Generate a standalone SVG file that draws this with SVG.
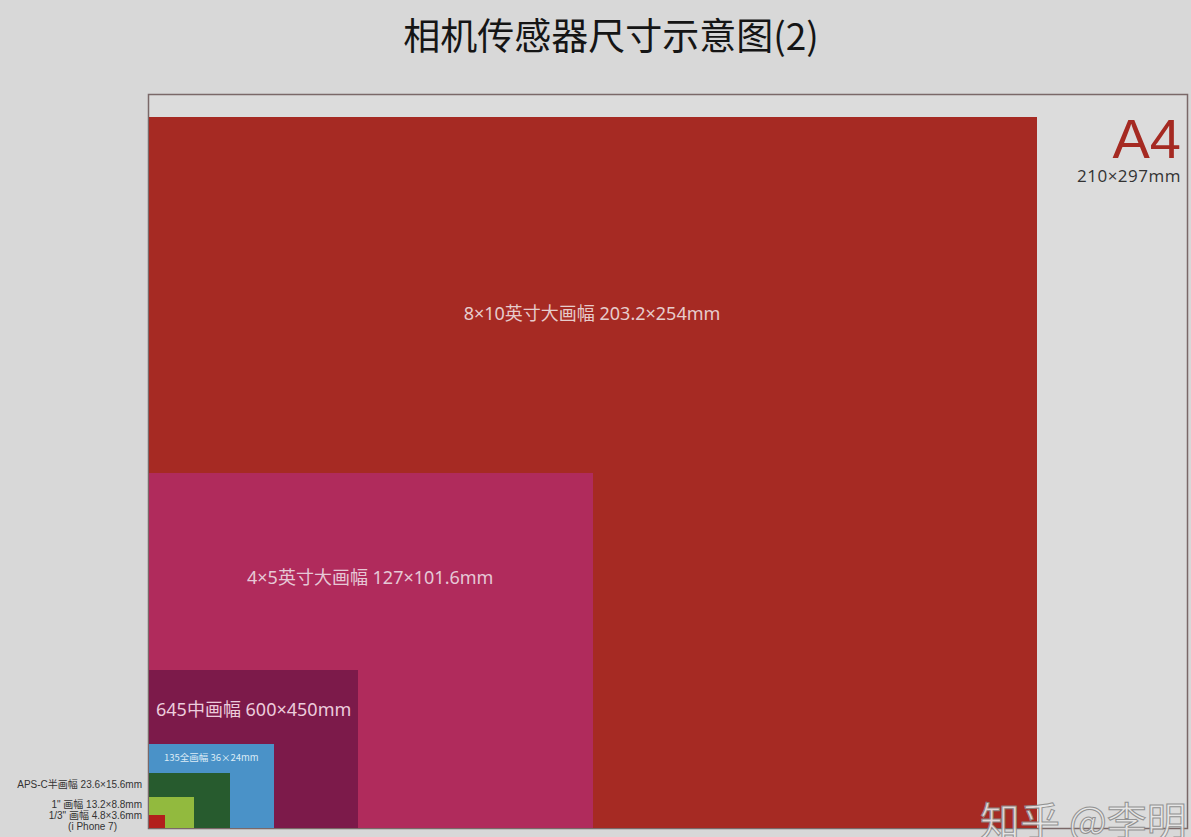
<svg xmlns="http://www.w3.org/2000/svg" width="1191" height="837" viewBox="0 0 1191 837">
<style>
.cn{font-family:"Noto Sans CJK SC","Liberation Sans",sans-serif}
.lab{font-family:"Noto Sans","Noto Sans CJK SC",sans-serif;font-size:18px}
.side{font-family:"Liberation Sans","Noto Sans CJK SC",sans-serif;font-size:10px;fill:#333;text-anchor:end}
</style>
<rect x="0" y="0" width="1191" height="837" fill="#d8d8d8"/>
<text class="cn" x="611" y="50" font-size="37" fill="#151515" text-anchor="middle">相机传感器尺寸示意图(2)</text>
<g id="a4">
<rect x="148.5" y="94.5" width="1039" height="734" fill="#dcdcdc" stroke="#7a6868" stroke-width="1.5"/>
<text x="1181" y="158" font-family="'Liberation Sans',sans-serif" font-size="56" fill="#a52a22" text-anchor="end">A4</text>
<text x="1181" y="182" font-family="'Open Sans','Liberation Sans',sans-serif" font-size="17" letter-spacing="0.5" fill="#333" text-anchor="end">210×297mm</text>
</g>
<g id="large8x10">
<rect x="149" y="117" width="888" height="711" fill="#a62a23"/>
<text class="lab" x="592" y="320" fill="#e6cccc" text-anchor="middle">8×10英寸大画幅 203.2×254mm</text>
</g>
<g id="large4x5">
<rect x="149" y="473" width="444" height="355" fill="#b02b5c"/>
<text class="lab" x="247" y="584" fill="#e6c8d6">4×5英寸大画幅 127×101.6mm</text>
</g>
<g id="medium645">
<rect x="149" y="670" width="209" height="158" fill="#7c1a4a"/>
<text class="lab" x="156" y="716" font-size="19" fill="#ecccdc">645中画幅 600×450mm</text>
</g>
<g id="full135">
<rect x="149" y="744" width="125" height="84" fill="#4a92c8"/>
<text x="164" y="761" font-family="'Noto Sans CJK SC','Liberation Sans',sans-serif" font-size="9.5" fill="#dcecf6">135全画幅 36×24mm</text>
</g>
<g id="apsc">
<rect x="149" y="773" width="81" height="55" fill="#275b2e"/>
<text class="side" x="142" y="788">APS-C半画幅 23.6×15.6mm</text>
</g>
<g id="inch1">
<rect x="149" y="797" width="45" height="31" fill="#92ba3e"/>
<text class="side" x="142" y="808">1"  画幅 13.2×8.8mm</text>
</g>
<g id="inch13">
<rect x="149" y="815" width="16" height="13" fill="#b21f1c"/>
<text class="side" x="142" y="819">1/3"  画幅 4.8×3.6mm</text>
<text class="side" x="117" y="830">(i Phone 7)</text>
</g>
<text class="cn" x="980" y="836" font-size="40" fill="#e8e8e8" stroke="#8a8a8a" stroke-width="1" opacity="0.9">知乎 @李明</text>
</svg>
